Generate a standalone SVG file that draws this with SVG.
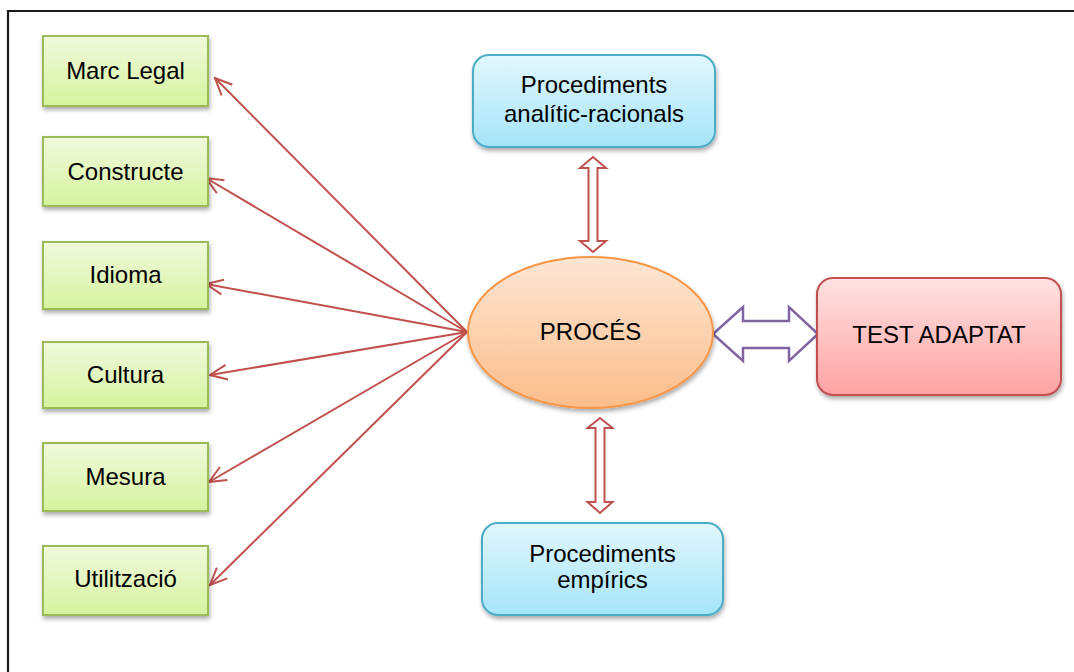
<svg xmlns="http://www.w3.org/2000/svg" width="1074" height="672" viewBox="0 0 1074 672">
  <defs>
    <linearGradient id="gGreen" x1="0" y1="0" x2="0" y2="1">
      <stop offset="0" stop-color="#f0f9dd"/>
      <stop offset="1" stop-color="#d6f39e"/>
    </linearGradient>
    <linearGradient id="gBlue" x1="0" y1="0" x2="0" y2="1">
      <stop offset="0" stop-color="#e2f7fd"/>
      <stop offset="1" stop-color="#a5e5f9"/>
    </linearGradient>
    <linearGradient id="gOrange" x1="0" y1="0" x2="0" y2="1">
      <stop offset="0" stop-color="#fde6d4"/>
      <stop offset="1" stop-color="#fbbd8a"/>
    </linearGradient>
    <linearGradient id="gRed" x1="0" y1="0" x2="0" y2="1">
      <stop offset="0" stop-color="#ffe2e2"/>
      <stop offset="1" stop-color="#ffa2a2"/>
    </linearGradient>
    <filter id="shadow" x="-10%" y="-10%" width="125%" height="135%">
      <feDropShadow dx="1" dy="3" stdDeviation="2" flood-color="#000" flood-opacity="0.32"/>
    </filter>
    <marker id="openHead" viewBox="-20 -10 22 20" refX="0" refY="0" markerWidth="22" markerHeight="20" markerUnits="userSpaceOnUse" orient="auto">
      <path d="M -17 -7.5 L 0 0 L -17 7.5" fill="none" stroke="#c0504d" stroke-width="2"/>
    </marker>
    <style>
      .lbl { font-family: "Liberation Sans", Arial, sans-serif; font-size: 24px; fill: #000; text-anchor: middle; }
      .green { fill: url(#gGreen); stroke: #9bbb59; stroke-width: 2; filter: url(#shadow); }
      .blue { fill: url(#gBlue); stroke: #4bacc6; stroke-width: 2; filter: url(#shadow); }
      .link { stroke: #c0504d; stroke-width: 2; fill: none; marker-end: url(#openHead); }
      .dbl { fill: #fff; stroke: #c0504d; stroke-width: 2; stroke-linejoin: miter; }
    </style>
  </defs>

  <rect width="1074" height="672" fill="#fff"/>
  <!-- page frame -->
  <path d="M8 672 V11 H1074" fill="none" stroke="#1a1a1a" stroke-width="2.2"/>

  <!-- connectors -->
  <g id="connectors">
    <line class="link" x1="467" y1="332" x2="215" y2="78"/>
    <line class="link" x1="467" y1="332" x2="206" y2="178"/>
    <line class="link" x1="467" y1="332" x2="206" y2="284"/>
    <line class="link" x1="467" y1="332" x2="210" y2="375"/>
    <line class="link" x1="467" y1="332" x2="209" y2="482"/>
    <line class="link" x1="467" y1="332" x2="210" y2="585"/>
    <!-- hollow double arrows -->
    <polygon class="dbl" points="593,157 606,168 597.5,168 597.5,241 606,241 593,252 580,241 588.5,241 588.5,168 580,168"/>
    <polygon class="dbl" points="600,418 612.5,428 604.5,428 604.5,502 612.5,502 600,513 587.5,502 595.5,502 595.5,428 587.5,428"/>
    <polygon points="713,334 743,307 743,321 789,321 789,307 818,334 789,361 789,348 743,348 743,361" fill="#fff" stroke="#8064a2" stroke-width="2.5" stroke-linejoin="miter"/>
  </g>

  <!-- left column -->
  <g id="marc-legal">
    <rect class="green" x="43" y="36" width="165" height="70"/>
    <text class="lbl" x="125.5" y="79">Marc Legal</text>
  </g>
  <g id="constructe">
    <rect class="green" x="43" y="137" width="165" height="69"/>
    <text class="lbl" x="125.5" y="180">Constructe</text>
  </g>
  <g id="idioma">
    <rect class="green" x="43" y="242" width="165" height="67"/>
    <text class="lbl" x="125.5" y="283">Idioma</text>
  </g>
  <g id="cultura">
    <rect class="green" x="43" y="342" width="165" height="66"/>
    <text class="lbl" x="125.5" y="383">Cultura</text>
  </g>
  <g id="mesura">
    <rect class="green" x="43" y="443" width="165" height="68"/>
    <text class="lbl" x="125.5" y="485">Mesura</text>
  </g>
  <g id="utilitzacio">
    <rect class="green" x="43" y="546" width="165" height="69"/>
    <text class="lbl" x="125.5" y="587">Utilització</text>
  </g>

  <!-- procedure boxes -->
  <g id="proc-analitic">
    <rect class="blue" x="473" y="55" width="242" height="92" rx="16"/>
    <text class="lbl" x="594" y="93">Procediments</text>
    <text class="lbl" x="594" y="121.5">analític-racionals</text>
  </g>
  <g id="proc-empiric">
    <rect class="blue" x="482" y="523" width="241" height="92" rx="16"/>
    <text class="lbl" x="602.5" y="561.5">Procediments</text>
    <text class="lbl" x="602.5" y="588">empírics</text>
  </g>

  <!-- centre -->
  <g id="proces">
    <ellipse cx="590.5" cy="332.5" rx="122.5" ry="75.5" fill="url(#gOrange)" stroke="#f79646" stroke-width="2" filter="url(#shadow)"/>
    <text class="lbl" x="590.5" y="340">PROCÉS</text>
  </g>

  <!-- result -->
  <g id="test-adaptat">
    <rect x="817" y="278" width="244" height="117" rx="16" fill="url(#gRed)" stroke="#c0504d" stroke-width="2" filter="url(#shadow)"/>
    <text class="lbl" x="939" y="343">TEST ADAPTAT</text>
  </g>
</svg>
